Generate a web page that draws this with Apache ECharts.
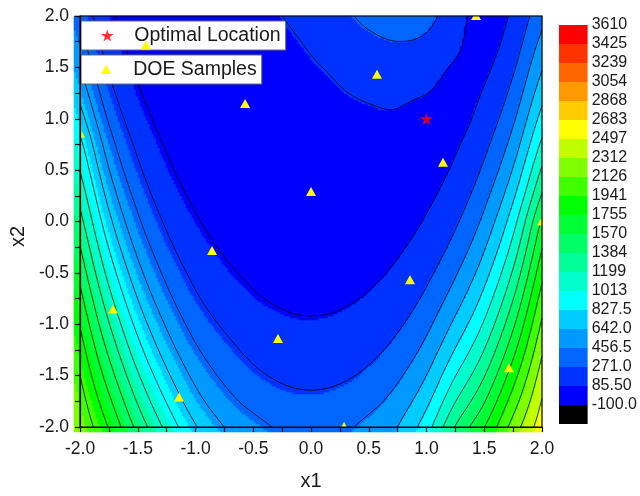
<!DOCTYPE html>
<html>
<head>
<meta charset="utf-8">
<title>Response surface with DOE samples</title>
<script src="https://cdn.jsdelivr.net/npm/echarts@6/dist/echarts.min.js"></script>
<style>
  html, body { margin: 0; padding: 0; background: #ffffff; }
  #chart { width: 640px; height: 496px; }
</style>
</head>
<body>
<div id="chart"></div>
<script>
// Node coordinates of the response-surface table
const x1Nodes = [-2, -1.75, -1.5, -1.25, -1, -0.75, -0.5, -0.25, 0, 0.25, 0.5, 0.75, 1, 1.25, 1.5, 1.75, 2];
const x2Nodes = [-2, -1.75, -1.5, -1.25, -1, -0.75, -0.5, -0.25, 0, 0.25, 0.5, 0.75, 1, 1.25, 1.5, 1.75, 2];

// Response values: one row per x2 node (bottom to top), one column per x1 node (left to right)
const fieldRows = [
  [2292, 1928, 1514, 1147, 841, 642, 525, 427, 390, 415, 514, 645, 936, 1396, 1752, 2204, 2611],
  [2214, 1796, 1365, 1002, 711, 525, 402, 330, 307, 329, 400, 535, 782, 1193, 1558, 2032, 2510],
  [2127, 1661, 1222, 866, 593, 420, 308, 246, 226, 245, 306, 425, 644, 1008, 1375, 1863, 2403],
  [2032, 1527, 1083, 738, 484, 332, 227, 174, 157, 173, 225, 329, 519, 840, 1202, 1697, 2283],
  [1927, 1394, 951, 620, 386, 247, 158, 114, 101, 113, 156, 244, 408, 690, 1040, 1535, 2158],
  [1814, 1262, 824, 510, 298, 175, 102, 68, 57, 67, 100, 172, 311, 555, 890, 1378, 2025],
  [1696, 1131, 705, 411, 222, 116, 59, 33, 26, 32, 56, 113, 227, 436, 751, 1226, 1886],
  [1574, 1004, 593, 322, 156, 69, 27, 11, 7, 10, 25, 66, 157, 333, 623, 1079, 1746],
  [1448, 881, 490, 242, 102, 35, 9, 2, 1, 1, 7, 32, 100, 244, 506, 938, 1601],
  [1322, 763, 394, 174, 59, 13, 2, 5, 7, 4, 0, 10, 56, 172, 400, 792, 1407],
  [1193, 649, 308, 117, 29, 3, 9, 21, 26, 20, 7, 0, 25, 113, 306, 657, 1226],
  [1065, 542, 231, 71, 10, 7, 27, 45, 50, 45, 30, 12, 6, 66, 225, 535, 1057],
  [909, 433, 163, 37, 6, 22, 45, 55, 58, 62, 70, 72, 40, 32, 156, 426, 901],
  [765, 336, 106, 15, 10, 28, 45, 55, 65, 80, 98, 105, 88, 35, 100, 329, 757],
  [634, 252, 63, 6, 15, 28, 40, 55, 75, 105, 150, 175, 155, 70, 56, 245, 626],
  [515, 180, 31, 8, 20, 32, 45, 65, 100, 160, 230, 270, 240, 120, 25, 173, 507],
  [409, 120, 13, 10, 25, 40, 60, 85, 135, 220, 320, 380, 330, 160, 10, 113, 401]
];

// Contour levels as printed on the colour scale
const levelLabels = ['-100.0', '85.50', '271.0', '456.5', '642.0', '827.5', '1013', '1199', '1384', '1570',
  '1755', '1941', '2126', '2312', '2497', '2683', '2868', '3054', '3239', '3425', '3610'];

// Fill colour of each band between consecutive levels (lowest first)
const bandColors = ['#0000FF', '#0033FF', '#0066FF', '#0099FF', '#00CCFF', '#00FFFF', '#00FFCC', '#00FF99',
  '#00FF66', '#00FF33', '#00FF00', '#40FF00', '#80FF00', '#C0FF00', '#FFFF00', '#FFCC00', '#FF9900',
  '#FF6600', '#FF3300', '#FF0000'];
const belowColor = '#000000';

// Design-of-experiments sample points
const doeX1 = [1.429, 0.571, -0.571, -2.0, 1.143, 0.0, -0.857, 0.857, -1.714, -0.286, 1.714, -1.143, 0.286, 2.0, -1.429];
const doeX2 = [2.0, 1.429, 1.143, 0.857, 0.571, 0.286, -0.286, -0.571, -0.857, -1.143, -1.429, -1.714, -2.0, 0.0, 1.714];

// Optimum found on the surface
const optimalX1 = [1.0];
const optimalX2 = [1.0];

const axisMin = -2, axisMax = 2, axisStep = 0.5;

// ---------------------------------------------------------------------------
const levels = levelLabels.map(Number);
const FONT = 'Liberation Sans, Arial, sans-serif';

// Smooth (Catmull-Rom) lookup in the node table, with linear extension past the border
function nodeValue(i, j) {
  const nx = x1Nodes.length, ny = x2Nodes.length;
  if (i < 0) return 2 * nodeValue(0, j) - nodeValue(1, j);
  if (i > nx - 1) return 2 * nodeValue(nx - 1, j) - nodeValue(nx - 2, j);
  if (j < 0) return 2 * nodeValue(i, 0) - nodeValue(i, 1);
  if (j > ny - 1) return 2 * nodeValue(i, ny - 1) - nodeValue(i, ny - 2);
  return fieldRows[j][i];
}
function cr(p0, p1, p2, p3, t) {
  return 0.5 * (2 * p1 + (-p0 + p2) * t + (2 * p0 - 5 * p1 + 4 * p2 - p3) * t * t + (-p0 + 3 * p1 - 3 * p2 + p3) * t * t * t);
}
function surface(x, y) {
  const hx = x1Nodes[1] - x1Nodes[0], hy = x2Nodes[1] - x2Nodes[0];
  const fx = (x - x1Nodes[0]) / hx, fy = (y - x2Nodes[0]) / hy;
  const i = Math.min(Math.max(Math.floor(fx), 0), x1Nodes.length - 2);
  const j = Math.min(Math.max(Math.floor(fy), 0), x2Nodes.length - 2);
  const tx = fx - i, ty = fy - j;
  const col = [];
  for (let dj = -1; dj <= 2; dj++) {
    col.push(cr(nodeValue(i - 1, j + dj), nodeValue(i, j + dj), nodeValue(i + 1, j + dj), nodeValue(i + 2, j + dj), tx));
  }
  return cr(col[0], col[1], col[2], col[3], ty);
}

// Raster cells for the filled bands
const NX = 234, NY = 208;
const dx = (axisMax - axisMin) / NX, dy = (axisMax - axisMin) / NY;
const xCells = [], yCells = [], cellData = [];
for (let i = 0; i < NX; i++) xCells.push(i);
for (let j = 0; j < NY; j++) yCells.push(j);
for (let j = 0; j < NY; j++) {
  const y = axisMin + (j + 0.5) * dy;
  for (let i = 0; i < NX; i++) {
    const x = axisMin + (i + 0.5) * dx;
    cellData.push([i, j, surface(x, y)]);
  }
}

// Contour lines by marching squares on the cell corners
const corner = [];
for (let j = 0; j <= NY; j++) {
  const row = [];
  for (let i = 0; i <= NX; i++) row.push(surface(axisMin + i * dx, axisMin + j * dy));
  corner.push(row);
}
function cut(xa, ya, va, xb, yb, vb, L) {
  const t = (L - va) / (vb - va);
  return [xa + t * (xb - xa), ya + t * (yb - ya)];
}
const contourSegments = [];
for (let k = 1; k < levels.length - 1; k++) {
  const L = levels[k];
  for (let j = 0; j < NY; j++) {
    const y0 = axisMin + j * dy, y1 = y0 + dy;
    for (let i = 0; i < NX; i++) {
      const x0 = axisMin + i * dx, x1 = x0 + dx;
      const bl = corner[j][i], br = corner[j][i + 1], tr = corner[j + 1][i + 1], tl = corner[j + 1][i];
      const b = (bl >= L) !== (br >= L) ? cut(x0, y0, bl, x1, y0, br, L) : null;
      const r = (br >= L) !== (tr >= L) ? cut(x1, y0, br, x1, y1, tr, L) : null;
      const t = (tl >= L) !== (tr >= L) ? cut(x0, y1, tl, x1, y1, tr, L) : null;
      const l = (bl >= L) !== (tl >= L) ? cut(x0, y0, bl, x0, y1, tl, L) : null;
      const pts = [b, r, t, l].filter(Boolean);
      if (pts.length === 2) {
        contourSegments.push({ coords: pts });
      } else if (pts.length === 4) {
        const c = (bl + br + tr + tl) / 4;
        if ((c >= L) === (bl >= L)) {
          contourSegments.push({ coords: [b, r] }, { coords: [t, l] });
        } else {
          contourSegments.push({ coords: [b, l] }, { coords: [r, t] });
        }
      }
    }
  }
}

// Visual map pieces for the filled bands
const pieces = [{ lt: levels[0], color: belowColor }];
for (let k = 0; k < bandColors.length; k++) {
  const p = { gte: levels[k], color: bandColors[k] };
  if (k < bandColors.length - 1) p.lt = levels[k + 1];
  pieces.push(p);
}

// Colour-scale boxes: index 0 is the under-range box, then one per band
const scaleColors = [belowColor].concat(bandColors);
const scaleData = scaleColors.map((c, k) => [k, k + 1, k]);

const samplePoints = doeX1.map((x, k) => [x, doeX2[k]]);
const optimalPoints = optimalX1.map((x, k) => [x, optimalX2[k]]);

const starPath = 'path://M50,0 L61.2,34.5 L97.6,34.5 L68.2,55.9 L79.4,90.5 L50,69.1 L20.6,90.5 L31.8,55.9 L2.4,34.5 L38.8,34.5 Z';
const triPath = 'path://M50,0 L100,87 L0,87 Z';

const PLOT = { left: 74, top: 16, width: 468, height: 416 };
const BAR = { left: 559, top: 25, width: 32, height: 399 };

const tickStyle = { color: '#000', width: 1.2 };
const mainAxis = {
  type: 'value', gridIndex: 1, min: axisMin, max: axisMax, interval: axisStep, z: 10,
  axisLine: { show: true, onZero: false, lineStyle: tickStyle },
  axisTick: { show: true, inside: false, length: 5, lineStyle: tickStyle },
  minorTick: { show: true, splitNumber: 2, length: 5, lineStyle: tickStyle },
  splitLine: { show: false },
  axisLabel: { fontSize: 17.5, fontFamily: FONT, color: '#1a1a1a', formatter: v => v.toFixed(1) },
  nameLocation: 'middle',
  nameTextStyle: { fontSize: 20, fontFamily: FONT, color: '#1a1a1a' }
};

const legendBase = {
  left: 81, orient: 'horizontal', itemWidth: 44,
  backgroundColor: '#ffffff', borderColor: '#6a6a6a', borderWidth: 1, borderRadius: 0,
  padding: [4, 5, 4, 20], selectedMode: false,
  textStyle: { fontSize: 19.5, fontFamily: FONT, color: '#1a1a1a', lineHeight: 21 }
};

const chart = echarts.init(document.getElementById('chart'), null, { renderer: 'canvas' });
chart.setOption({
  animation: false,
  backgroundColor: '#ffffff',
  grid: [
    Object.assign({ show: false }, PLOT),
    Object.assign({ show: true, borderColor: '#000', borderWidth: 1.2, backgroundColor: 'transparent', z: 10 }, PLOT),
    Object.assign({ show: false }, BAR)
  ],
  xAxis: [
    { type: 'category', gridIndex: 0, data: xCells, show: false },
    Object.assign({}, mainAxis, { name: 'x1', nameGap: 44, axisLabel: Object.assign({}, mainAxis.axisLabel, { margin: 13 }) }),
    { type: 'value', gridIndex: 2, min: 0, max: 1, show: false }
  ],
  yAxis: [
    { type: 'category', gridIndex: 0, data: yCells, show: false },
    Object.assign({}, mainAxis, {
      name: 'x2', nameGap: 46,
      nameTextStyle: Object.assign({}, mainAxis.nameTextStyle, { padding: [0, 30, 0, 0] }),
      axisLabel: Object.assign({}, mainAxis.axisLabel, { margin: 11 })
    }),
    {
      type: 'value', gridIndex: 2, min: 0, max: scaleColors.length, interval: 1, position: 'right',
      axisLine: { show: false }, axisTick: { show: false }, splitLine: { show: false },
      axisLabel: {
        margin: 4, fontSize: 16, fontFamily: FONT, color: '#1a1a1a',
        formatter: v => { const k = Math.round(v); return k >= 1 ? levelLabels[k - 1] : ''; }
      }
    }
  ],
  visualMap: {
    type: 'piecewise', show: false, seriesIndex: 0, dimension: 2, pieces: pieces
  },
  legend: [
    Object.assign({}, legendBase, { top: 21, itemHeight: 12, data: [{ name: 'Optimal Location', icon: starPath }] }),
    Object.assign({}, legendBase, { top: 55, itemHeight: 9, data: [{ name: 'DOE Samples', icon: triPath }] })
  ],
  series: [
    {
      type: 'heatmap', xAxisIndex: 0, yAxisIndex: 0, data: cellData,
      progressive: 0, silent: true, itemStyle: { borderWidth: 0 }, emphasis: { disabled: true }
    },
    {
      type: 'lines', coordinateSystem: 'cartesian2d', xAxisIndex: 1, yAxisIndex: 1,
      data: contourSegments, large: true, largeThreshold: 100, silent: true, z: 3,
      lineStyle: { color: '#000000', width: 0.8, opacity: 1 }
    },
    {
      // Sample markers are clipped to the plot frame, so border points show only their inner part
      name: 'DOE Samples', type: 'custom', xAxisIndex: 1, yAxisIndex: 1, data: samplePoints, z: 4,
      clip: true, silent: true, encode: { x: 0, y: 1 }, itemStyle: { color: '#FFFF00' },
      renderItem: function (params, api) {
        const c = api.coord([api.value(0), api.value(1)]);
        return {
          type: 'polygon',
          shape: { points: [[c[0], c[1] - 5], [c[0] + 5, c[1] + 4], [c[0] - 5, c[1] + 4]] },
          style: { fill: api.visual('color'), stroke: null }
        };
      }
    },
    {
      name: 'Optimal Location', type: 'scatter', xAxisIndex: 1, yAxisIndex: 1, data: optimalPoints, z: 4,
      symbol: starPath, symbolSize: 13, itemStyle: { color: '#FF0000' }, silent: true
    },
    {
      type: 'custom', xAxisIndex: 2, yAxisIndex: 2, data: scaleData, silent: true,
      renderItem: function (params, api) {
        const p0 = api.coord([0, api.value(0)]);
        const p1 = api.coord([1, api.value(1)]);
        return {
          type: 'rect',
          shape: { x: p0[0], y: p1[1], width: p1[0] - p0[0], height: p0[1] - p1[1] },
          style: { fill: scaleColors[api.value(2)], stroke: null }
        };
      }
    }
  ]
});
</script>
</body>
</html>
